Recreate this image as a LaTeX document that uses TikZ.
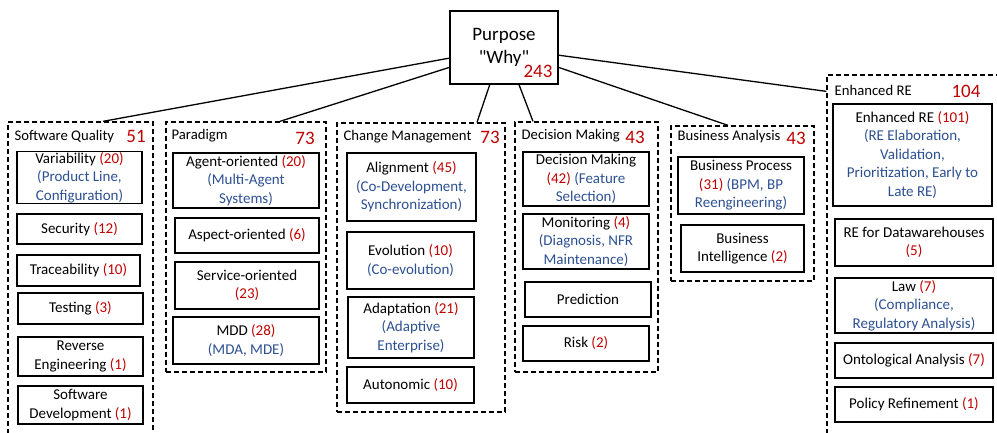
\documentclass[tikz,border=0pt]{standalone}
\usepackage{fontspec}
\setmainfont{Carlito}[Ligatures=TeXOff]
\definecolor{numred}{RGB}{192,0,0}
\definecolor{noteblue}{RGB}{44,80,145}
\newcommand{\cnt}[1]{\textcolor{numred}{#1}}
\newcommand{\sub}[1]{\textcolor{noteblue}{#1}}

\begin{document}
\begin{tikzpicture}[x=1pt,y=-1pt,line width=1.3pt,
    topic/.style={draw,align=center,inner sep=1pt,font=\fontsize{15}{18.5}\selectfont},
    group/.style={draw,dash pattern=on 5pt off 3pt},
    group title/.style={anchor=west,inner sep=0pt,font=\fontsize{14.7}{18}\selectfont},
    group count/.style={inner sep=0pt,text=numred,font=\fontsize{19}{22}\selectfont}]

    \useasboundingbox (0,0) rectangle (997,432);
    \clip (0,0) rectangle (997,432);

    % root
    \node[draw,align=center,minimum width=108pt,minimum height=73pt,font=\fontsize{19}{23}\selectfont] (root) at (504,47.5) {Purpose\\"Why"};
    \node[group count] (rootn) at (538,71) {243};

    % groups
    \node[group,minimum width=145pt,minimum height=323pt] (sq) at (80.5,283.5) {};
    \node[group title] (sqt) at (14,137) {Software Quality};
    \node[group count] (sqn) at (136,136) {51};

    \node[group,minimum width=160pt,minimum height=250pt] (par) at (246,247) {};
    \node[group title] (part) at (171,136) {Paradigm};
    \node[group count] (parn) at (305,138) {73};

    \node[group,minimum width=168pt,minimum height=289pt] (cm) at (421,267.5) {};
    \node[group title] (cmt) at (343,137) {Change Management};
    \node[group count] (cmn) at (490,137) {73};

    \node[group,minimum width=143pt,minimum height=250pt] (dm) at (586.5,247) {};
    \node[group title] (dmt) at (521,136) {Decision Making};
    \node[group count] (dmn) at (635,137) {43};

    \node[group,minimum width=143pt,minimum height=155pt] (ba) at (742.5,203.5) {};
    \node[group title] (bat) at (677,137) {Business Analysis};
    \node[group count] (ban) at (796,138) {43};

    \node[group,minimum width=178pt,minimum height=370pt] (ere) at (916,260) {};
    \node[group title] (eret) at (834,90) {Enhanced RE};
    \node[group count] (eren) at (966,91) {104};

    % software quality
    \node[topic,minimum width=125pt,minimum height=51pt] (var) at (79.5,177.5) {Variability \cnt{(20)}\\\sub{(Product Line,}\\\sub{Configuration)}};
    \node[topic,minimum width=125pt,minimum height=30pt] (sec) at (79.5,229) {Security \cnt{(12)}};
    \node[topic,minimum width=123pt,minimum height=31pt] (trace) at (78.5,270.5) {Traceability \cnt{(10)}};
    \node[topic,minimum width=125pt,minimum height=31pt] (test) at (80.5,308.5) {Testing \cnt{(3)}};
    \node[topic,minimum width=125pt,minimum height=39pt] (rev) at (80.5,356.5) {Reverse\\Engineering \cnt{(1)}};
    \node[topic,minimum width=125pt,minimum height=38pt] (sdev) at (80.5,405) {Software\\Development \cnt{(1)}};

    % paradigm
    \node[topic,minimum width=146pt,minimum height=55pt] (agent) at (246,180.5) {Agent-oriented \cnt{(20)}\\\sub{(Multi-Agent}\\\sub{Systems)}};
    \node[topic,minimum width=144pt,minimum height=35pt] (aspect) at (247,235.5) {Aspect-oriented \cnt{(6)}};
    \node[topic,minimum width=144pt,minimum height=47pt] (service) at (247,285.5) {Service-oriented\\\cnt{(23)}};
    \node[topic,minimum width=146pt,minimum height=47pt] (mdd) at (246,340.5) {MDD \cnt{(28)}\\\sub{(MDA, MDE)}};

    % change management
    \node[topic,minimum width=129pt,minimum height=68pt] (align) at (411.5,187) {Alignment \cnt{(45)}\\\sub{(Co-Development,}\\\sub{Synchronization)}};
    \node[topic,minimum width=127pt,minimum height=57pt] (evol) at (410.5,260.5) {Evolution \cnt{(10)}\\\sub{(Co-evolution)}};
    \node[topic,minimum width=126pt,minimum height=61pt] (adapt) at (411,327.5) {Adaptation \cnt{(21)}\\\sub{(Adaptive}\\\sub{Enterprise)}};
    \node[topic,minimum width=127pt,minimum height=36pt] (auto) at (410.5,385) {Autonomic \cnt{(10)}};

    % decision making
    \node[topic,minimum width=126pt,minimum height=54pt] (dmk) at (586,179) {Decision Making\\\cnt{(42)} \sub{(Feature}\\\sub{Selection)}};
    \node[topic,minimum width=126pt,minimum height=55pt] (mon) at (586,241.5) {Monitoring \cnt{(4)}\\\sub{(Diagnosis, NFR}\\\sub{Maintenance)}};
    \node[topic,minimum width=126pt,minimum height=35pt] (pred) at (588,299.5) {Prediction};
    \node[topic,minimum width=126pt,minimum height=35pt] (risk) at (586,343.5) {Risk \cnt{(2)}};

    % business analysis
    \node[topic,minimum width=126pt,minimum height=57pt] (bp) at (741,185.5) {Business Process\\\cnt{(31)} \sub{(BPM, BP}\\\sub{Reengineering)}};
    \node[topic,minimum width=123pt,minimum height=47pt] (bi) at (742.5,248.5) {Business\\Intelligence \cnt{(2)}};

    % enhanced RE
    \node[topic,minimum width=159pt,minimum height=102pt] (ere1) at (912.5,155) {Enhanced RE \cnt{(101)}\\\sub{(RE Elaboration,}\\\sub{Validation,}\\\sub{Prioritization, Early to}\\\sub{Late RE)}};
    \node[topic,minimum width=158pt,minimum height=47pt] (dw) at (914,242.5) {RE for Datawarehouses\\\cnt{(5)}};
    \node[topic,minimum width=158pt,minimum height=55pt] (law) at (914,305.5) {Law \cnt{(7)}\\\sub{(Compliance,}\\\sub{Regulatory Analysis)}};
    \node[topic,minimum width=158pt,minimum height=35pt] (onto) at (914,360.5) {Ontological Analysis \cnt{(7)}};
    \node[topic,minimum width=158pt,minimum height=35pt] (pol) at (914,404.5) {Policy Refinement \cnt{(1)}};

    % links from root
    \draw[-] (root.191) to ([xshift=22.5pt]sq.north);
    \draw[-] (root.200) to ([xshift=34pt]par.north);
    \draw[-] (root.249) to ([xshift=56pt]cm.north);
    \draw[-] (root.292) to ([xshift=-53.5pt]dm.north);
    \draw[-] (root.340) to ([xshift=-14.5pt]ba.north);
    \draw[-] (root.352) to ([yshift=-17pt]ere.north west);
\end{tikzpicture}
\end{document}
